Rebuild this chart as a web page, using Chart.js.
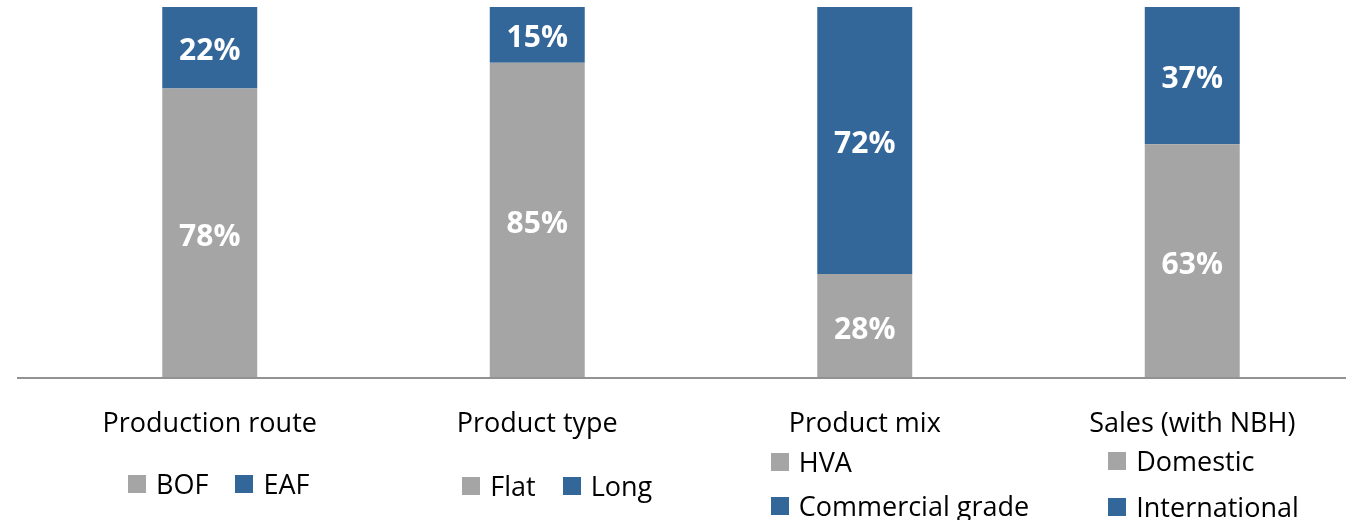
<!DOCTYPE html>
<html><head><meta charset="utf-8">
<script src="https://cdn.jsdelivr.net/npm/chart.js@4"></script>
<style>
html,body{margin:0;padding:0;overflow:hidden;background:#fff;width:1346px;height:520px}
#c{position:absolute;left:0;top:0}
</style></head>
<body>
<canvas id="c" width="1370" height="520"></canvas>
<script>
const categories = ["Production route", "Product type", "Product mix", "Sales (with NBH)"];
const bottomShare = [78, 85, 28, 63];
const topShare = [22, 15, 72, 37];
const bottomNames = ["BOF", "Flat", "HVA", "Domestic"];
const topNames = ["EAF", "Long", "Commercial grade", "International"];

const GREY = "#a5a5a5", BLUE = "#336699";
const FONT = '"Open Sans", "Noto Sans", sans-serif';

const segmentLabels = {
  id: 'segmentLabels',
  afterDatasetsDraw(chart) {
    const ctx = chart.ctx;
    ctx.save();
    ctx.font = 'bold 30px ' + FONT;
    ctx.fillStyle = '#ffffff';
    ctx.textAlign = 'center';
    ctx.textBaseline = 'alphabetic';
    chart.data.datasets.forEach((ds, di) => {
      chart.getDatasetMeta(di).data.forEach((bar, i) => {
        const cy = (bar.y + bar.base) / 2;
        ctx.fillText(ds.data[i] + '%', bar.x, cy + 12.5);
      });
    });
    ctx.restore();
  }
};

const baseLine = {
  id: 'baseLine',
  afterDatasetsDraw(chart) {
    const ctx = chart.ctx, y = chart.chartArea.bottom;
    ctx.save();
    ctx.strokeStyle = '#929292';
    ctx.lineWidth = 2;
    ctx.beginPath();
    ctx.moveTo(17, y);
    ctx.lineTo(chart.width, y);
    ctx.stroke();
    ctx.restore();
  }
};

const catLegends = {
  id: 'catLegends',
  afterDraw(chart) {
    const ctx = chart.ctx, xs = chart.scales.x;
    const size = 27, box = 18, gap = 10, itemGap = 27;
    const layouts = [
      { rows: [[0, 1]], align: 'center', dx: 9, ys: [484] },
      { rows: [[0, 1]], align: 'center', dx: 20, ys: [486] },
      { rows: [[0], [1]], align: 'left', dx: -94, ys: [462, 506] },
      { rows: [[0], [1]], align: 'left', dx: -84, ys: [461, 507] }
    ];
    ctx.save();
    ctx.font = size + 'px ' + FONT;
    ctx.textBaseline = 'alphabetic';
    ctx.textAlign = 'left';
    categories.forEach((cat, i) => {
      const L = layouts[i];
      const cx = xs.getPixelForTick(i) + L.dx;
      L.rows.forEach((row, ri) => {
        const items = row.map(k => ({
          text: k === 0 ? bottomNames[i] : topNames[i],
          color: k === 0 ? GREY : BLUE
        }));
        items.forEach(it => it.w = box + gap + ctx.measureText(it.text).width);
        const total = items.reduce((s, it) => s + it.w, 0) + itemGap * (items.length - 1);
        let x = L.align === 'center' ? cx - total / 2 : cx;
        const y = L.ys[ri];
        items.forEach(it => {
          ctx.fillStyle = it.color;
          ctx.fillRect(Math.round(x), Math.round(y - box / 2), box, box);
          ctx.fillStyle = '#000000';
          ctx.fillText(it.text, x + box + gap, y + 0.357 * size);
          x += it.w + itemGap;
        });
      });
    });
    ctx.restore();
  }
};

new Chart(document.getElementById('c'), {
  type: 'bar',
  data: {
    labels: categories,
    datasets: [
      { label: 'Bottom', data: bottomShare, backgroundColor: GREY, borderWidth: 0 },
      { label: 'Top', data: topShare, backgroundColor: BLUE, borderWidth: 0 }
    ]
  },
  options: {
    responsive: false,
    devicePixelRatio: 1,
    animation: false,
    layout: { padding: { left: 46, right: 14, top: 7, bottom: 0 } },
    datasets: { bar: { barPercentage: 0.29, categoryPercentage: 1 } },
    plugins: { legend: { display: false }, tooltip: { enabled: false } },
    scales: {
      x: {
        stacked: true,
        grid: { display: false, drawTicks: false },
        border: { display: false },
        ticks: {
          color: '#000000',
          font: { family: FONT, size: 27 },
          padding: 30,
          maxRotation: 0,
          autoSkip: false
        },
        afterFit(scale) { scale.height = 142; }
      },
      y: {
        stacked: true,
        display: false,
        min: 0,
        max: 100
      }
    }
  },
  plugins: [baseLine, segmentLabels, catLegends]
});
</script>
</body></html>
